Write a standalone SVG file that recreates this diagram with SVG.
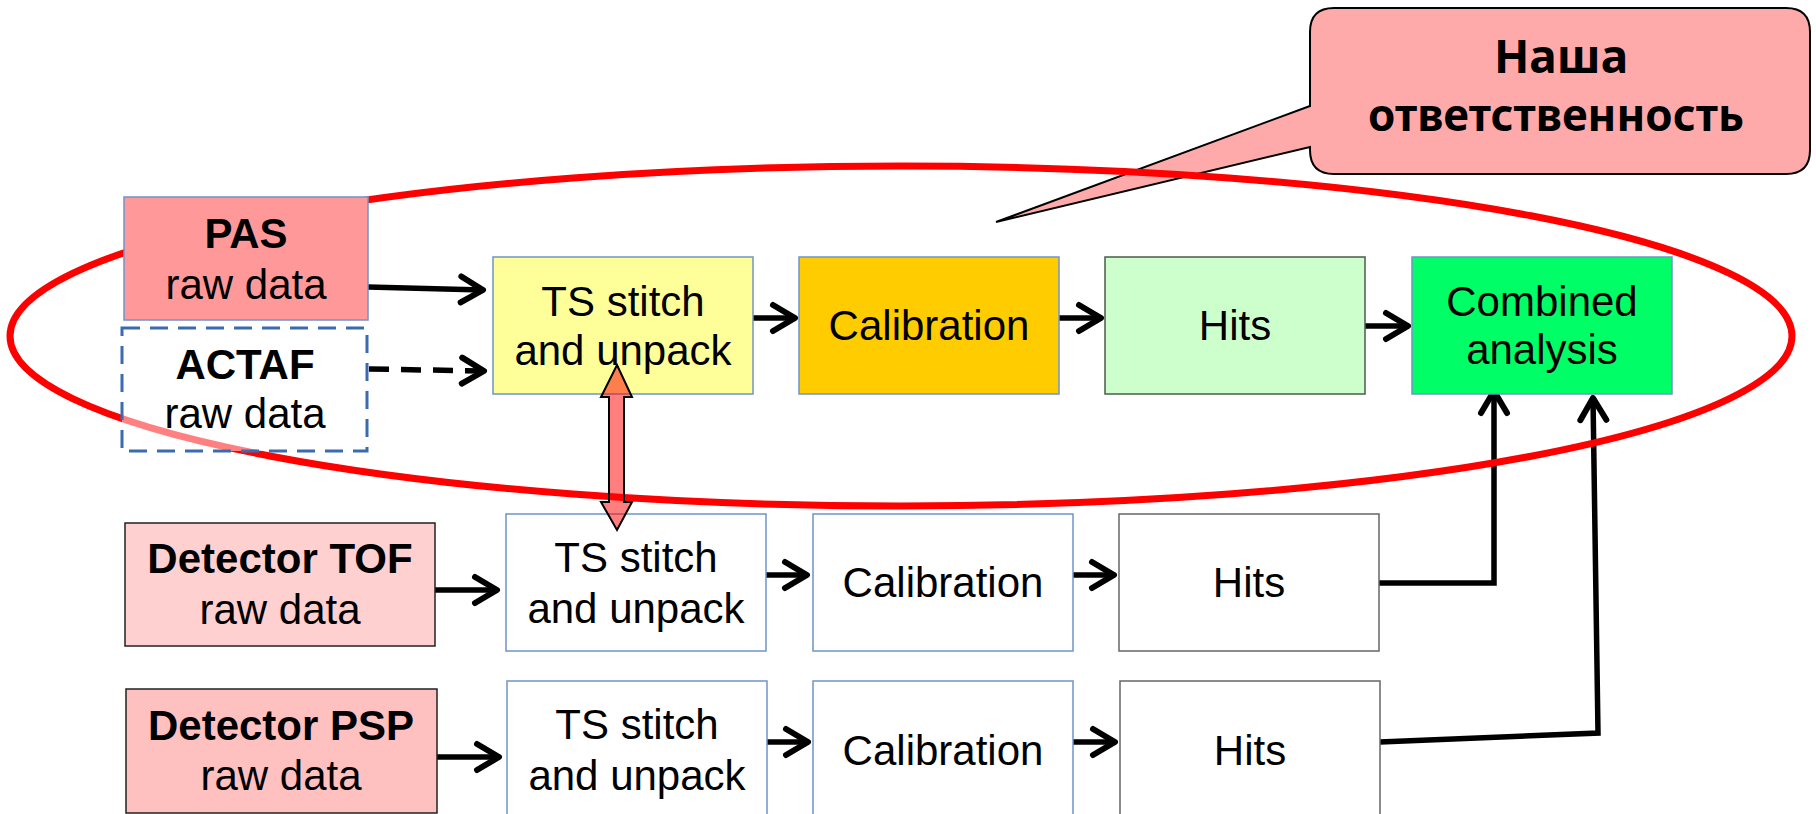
<svg xmlns="http://www.w3.org/2000/svg" width="1816" height="814" viewBox="0 0 1816 814">
<style>
.t{font-family:"Liberation Sans",Arial,sans-serif;font-size:42px;fill:#000;text-anchor:middle}
.b{font-weight:bold}
.blue{stroke:#7094c8;stroke-width:1.5}
.gray{stroke:#666;stroke-width:1.5}
.blk{stroke:#222;stroke-width:1.5}
.c{fill:none;stroke:#000;stroke-width:5.5}
.cal{font-family:"Noto Sans","DejaVu Sans",sans-serif;font-weight:bold;fill:#000;text-anchor:middle}
</style>
<defs>
<marker id="ah" markerUnits="userSpaceOnUse" markerWidth="60" markerHeight="60" viewBox="-30 -30 60 60" refX="0" refY="0" orient="auto" overflow="visible">
<path d="M-22,-13 L0,0 L-22,13" fill="none" stroke="#000" stroke-width="6" stroke-linejoin="round" stroke-linecap="round"/>
</marker>
</defs>
<rect width="1816" height="814" fill="#fff"/>

<g id="callout">
<path d="M1334,8 H1786 Q1810,8 1810,32 V150 Q1810,174 1786,174 H1334 Q1310,174 1310,150 V147 L996,222 L1310,106 V32 Q1310,8 1334,8 Z" fill="#FFAAAA" stroke="#000" stroke-width="2"/>
<text class="cal" x="1561" y="73" font-size="46">Наша</text>
<text class="cal" x="1556" y="131" font-size="44">ответственность</text>
</g>

<g id="connectors">
<line class="c" x1="368" y1="287" x2="483" y2="290" marker-end="url(#ah)"/>
<line class="c" x1="369" y1="369" x2="484" y2="371" stroke-dasharray="20,12" marker-end="url(#ah)"/>
<line class="c" x1="753" y1="318" x2="795" y2="318" marker-end="url(#ah)"/>
<line class="c" x1="1059" y1="318" x2="1101" y2="318" marker-end="url(#ah)"/>
<line class="c" x1="1365" y1="326" x2="1408" y2="326" marker-end="url(#ah)"/>
<line class="c" x1="435" y1="590" x2="497" y2="590" marker-end="url(#ah)"/>
<line class="c" x1="766" y1="575" x2="807" y2="575" marker-end="url(#ah)"/>
<line class="c" x1="1073" y1="575" x2="1114" y2="575" marker-end="url(#ah)"/>
<line class="c" x1="437" y1="757" x2="499" y2="757" marker-end="url(#ah)"/>
<line class="c" x1="767" y1="742" x2="808" y2="742" marker-end="url(#ah)"/>
<line class="c" x1="1073" y1="742" x2="1115" y2="742" marker-end="url(#ah)"/>
<polyline class="c" points="1379,583 1494,583 1494,391" marker-end="url(#ah)"/>
<polyline class="c" points="1380,742 1598,733 1593,398" marker-end="url(#ah)"/>
</g>

<g id="ts1"><rect x="493" y="257" width="260" height="137" fill="#FFFF99" class="blue"/>
<text class="t" x="623" y="316">TS stitch</text><text class="t" x="623" y="365">and unpack</text></g>
<g id="cal1"><rect x="799" y="257" width="260" height="137" fill="#FFCC00" class="blue"/>
<text class="t" x="929" y="340">Calibration</text></g>
<g id="hits1"><rect x="1105" y="257" width="260" height="137" fill="#CCFFCC" stroke="#4d5a4d" stroke-width="1.5"/>
<text class="t" x="1235" y="340">Hits</text></g>
<g id="comb"><rect x="1412" y="257" width="260" height="137" fill="#00FF66" class="blue"/>
<text class="t" x="1542" y="316">Combined</text><text class="t" x="1542" y="364">analysis</text></g>

<g id="tof"><rect x="125" y="523" width="310" height="123" fill="#FFD0D0" class="blk"/>
<text class="t b" x="280" y="573">Detector TOF</text><text class="t" x="280" y="624">raw data</text></g>
<g id="ts2"><rect x="506" y="514" width="260" height="137" fill="#fff" class="blue"/>
<text class="t" x="636" y="572">TS stitch</text><text class="t" x="636" y="623">and unpack</text></g>
<g id="cal2"><rect x="813" y="514" width="260" height="137" fill="#fff" class="blue"/>
<text class="t" x="943" y="597">Calibration</text></g>
<g id="hits2"><rect x="1119" y="514" width="260" height="137" fill="#fff" class="gray"/>
<text class="t" x="1249" y="597">Hits</text></g>

<g id="psp"><rect x="126" y="689" width="311" height="124" fill="#FFC0C0" class="blk"/>
<text class="t b" x="281" y="740">Detector PSP</text><text class="t" x="281" y="790">raw data</text></g>
<g id="ts3"><rect x="507" y="681" width="260" height="140" fill="#fff" class="blue"/>
<text class="t" x="637" y="739">TS stitch</text><text class="t" x="637" y="790">and unpack</text></g>
<g id="cal3"><rect x="813" y="681" width="260" height="140" fill="#fff" class="blue"/>
<text class="t" x="943" y="765">Calibration</text></g>
<g id="hits3"><rect x="1120" y="681" width="260" height="140" fill="#fff" class="gray"/>
<text class="t" x="1250" y="765">Hits</text></g>

<ellipse id="scope" cx="901" cy="336" rx="891" ry="170" fill="none" stroke="#FF0000" stroke-width="7"/>

<g id="pas"><rect x="124" y="197" width="244" height="123" fill="#FF9999" class="blue"/>
<text class="t b" x="246" y="248" font-size="41">PAS</text><text class="t" x="246" y="299">raw data</text></g>
<g id="actaf"><rect x="122" y="328" width="245" height="123" fill="#fff" fill-opacity="0.5" stroke="#3A6AB0" stroke-width="3" stroke-dasharray="18,10"/>
<text class="t b" x="245" y="379" font-size="41">ACTAF</text><text class="t" x="245" y="428">raw data</text></g>

<g id="link">
<path d="M617,365 L632,397 L624,397 L624,502 L632,502 L617,530 L601,502 L609,502 L609,397 L601,397 Z" fill="#FF0000" fill-opacity="0.5" stroke="#000" stroke-width="2" stroke-linejoin="miter"/>
</g>
</svg>
